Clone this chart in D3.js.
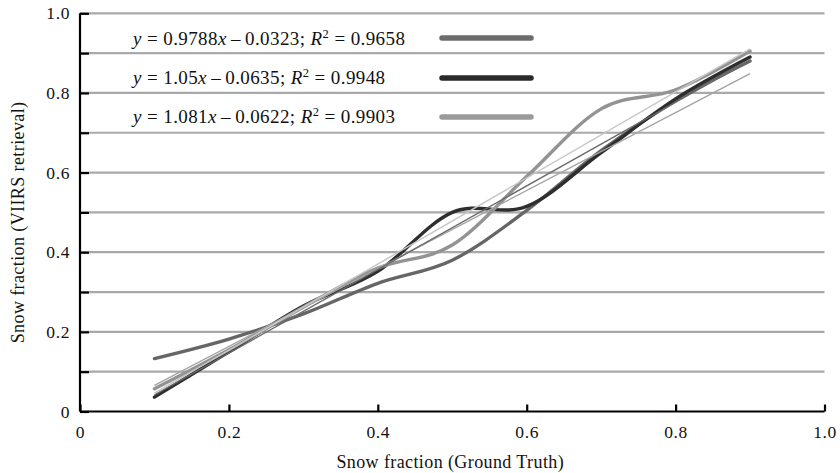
<!DOCTYPE html>
<html>
<head>
<meta charset="utf-8">
<script src="https://cdn.jsdelivr.net/npm/d3@7"></script>
<style>
  html, body { margin: 0; padding: 0; background: #fff; }
  svg { display: block; font-family: "Liberation Serif", "Times New Roman", serif; }
</style>
</head>
<body>
<svg id="chart" width="840" height="473"></svg>
<script>
// Ground-truth snow fraction at the sampled points
const groundTruth = [0.1, 0.2, 0.3, 0.4, 0.5, 0.6, 0.7, 0.8, 0.9];

// VIIRS-retrieved snow fraction, one array per series
const retrievalA = [0.133, 0.182, 0.245, 0.322, 0.38, 0.505, 0.655, 0.78, 0.88];
const retrievalB = [0.036, 0.15, 0.265, 0.352, 0.5, 0.515, 0.65, 0.785, 0.89];
const retrievalC = [0.057, 0.155, 0.262, 0.36, 0.418, 0.59, 0.76, 0.808, 0.905];

// Linear fits: slope, intercept, R²
const fitSlopes = [0.9788, 1.05, 1.081];
const fitIntercepts = [-0.0323, -0.0635, -0.0622];
const fitR2 = ["0.9658", "0.9948", "0.9903"];
const fitSlopeText = ["0.9788", "1.05", "1.081"];
const fitInterceptText = ["0.0323", "0.0635", "0.0622"];

const xTicks = [0, 0.2, 0.4, 0.6, 0.8, 1.0];
const yTicks = [0, 0.2, 0.4, 0.6, 0.8, 1.0];
const yMinorTicks = [0, 0.1, 0.2, 0.3, 0.4, 0.5, 0.6, 0.7, 0.8, 0.9, 1.0];

const xLabel = "Snow fraction (Ground Truth)";
const yLabel = "Snow fraction (VIIRS retrieval)";

const series = [retrievalA, retrievalB, retrievalC];
const curveColors = ["#666666", "#2e2e2e", "#939393"];
const swatchColors = ["#6c6c6c", "#2a2a2a", "#9a9a9a"];
const trendColors = ["#a4a4a4", "#6a6a6a", "#c6c6c6"];

const svg = d3.select("#chart");
const x = d3.scaleLinear().domain([0, 1]).range([80, 824.5]);
const y = d3.scaleLinear().domain([0, 1]).range([411.5, 13.3]);
const fmt = d => d === 0 ? "0" : d3.format(".1f")(d);

// Horizontal gridlines every 0.1
svg.append("g").selectAll("line")
  .data(yMinorTicks.filter(d => d > 0))
  .join("line")
  .attr("x1", x(0)).attr("x2", x(1))
  .attr("y1", d => y(d)).attr("y2", d => y(d))
  .attr("stroke", "#a9a9a9").attr("stroke-width", 2.2);

// Smoothed series curves
const line = d3.line()
  .x((d, i) => x(groundTruth[i]))
  .y(d => y(d))
  .curve(d3.curveCardinal.tension(0));

svg.append("g").selectAll("path")
  .data(series)
  .join("path")
  .attr("d", d => line(d))
  .attr("fill", "none")
  .attr("stroke", (d, i) => curveColors[i])
  .attr("stroke-width", 3.4)
  .attr("stroke-linecap", "round");

// Linear trend lines over the sampled range
const xr = d3.extent(groundTruth);
svg.append("g").selectAll("line")
  .data(fitSlopes)
  .join("line")
  .attr("x1", x(xr[0])).attr("x2", x(xr[1]))
  .attr("y1", (m, i) => y(m * xr[0] + fitIntercepts[i]))
  .attr("y2", (m, i) => y(m * xr[1] + fitIntercepts[i]))
  .attr("stroke", (d, i) => trendColors[i])
  .attr("stroke-width", 1.4);

// Axes with inward ticks
const yAxis = d3.axisLeft(y).tickValues(yMinorTicks).tickSize(-9).tickPadding(0)
  .tickFormat(d => yTicks.some(t => Math.abs(t - d) < 1e-9) ? fmt(d) : "");
const gy = svg.append("g").attr("transform", `translate(${x(0)},0)`).call(yAxis);
gy.select(".domain").attr("stroke", "#000").attr("stroke-width", 2.2).attr("d", `M0,${y(1)}V${y(0)}`);
gy.selectAll(".tick line").attr("stroke", "#000").attr("stroke-width", 2.2);
gy.selectAll(".tick text")
  .attr("x", -10).attr("dy", "0.32em")
  .attr("font-family", "Liberation Serif").attr("font-size", 17.5)
  .attr("letter-spacing", 0.6).attr("fill", "#111");

const xAxis = d3.axisBottom(x).tickValues(xTicks).tickSize(-7).tickPadding(0).tickFormat(fmt);
const gx = svg.append("g").attr("transform", `translate(0,${y(0)})`).call(xAxis);
gx.select(".domain").attr("stroke", "#000").attr("stroke-width", 2.2).attr("d", `M${x(0)},0H${x(1)}`);
gx.selectAll(".tick line").attr("stroke", "#000").attr("stroke-width", 2.2);
gx.selectAll(".tick text")
  .attr("y", 14).attr("dy", "0.71em")
  .attr("font-family", "Liberation Serif").attr("font-size", 17.5)
  .attr("letter-spacing", 0.6).attr("fill", "#111");

// Axis titles
svg.append("text")
  .attr("x", (x(0) + x(1)) / 2 - 2).attr("y", 468)
  .attr("text-anchor", "middle").attr("font-size", 18)
  .attr("letter-spacing", 0.4).attr("fill", "#111")
  .text(xLabel);
svg.append("text")
  .attr("transform", `translate(24,${(y(0) + y(1)) / 2 + 10}) rotate(-90)`)
  .attr("text-anchor", "middle").attr("font-size", 18)
  .attr("letter-spacing", 0.4).attr("fill", "#111")
  .text(yLabel);

// Legend: fit equations with line swatches
const legendBaselines = [45, 84, 123];
const legendSwatchY = [38, 78, 117];
fitSlopes.forEach((m, i) => {
  const t = svg.append("text")
    .attr("x", 133).attr("y", legendBaselines[i])
    .attr("font-size", 19).attr("letter-spacing", 0.4).attr("fill", "#111");
  t.append("tspan").attr("font-style", "italic").text("y");
  t.append("tspan").text(` = ${fitSlopeText[i]}`);
  t.append("tspan").attr("font-style", "italic").text("x");
  t.append("tspan").text(`\u2009\u2013\u2009${fitInterceptText[i]}; `);
  t.append("tspan").attr("font-style", "italic").text("R");
  t.append("tspan").attr("font-size", 12.5).attr("dy", -7.5).text("2");
  t.append("tspan").attr("dy", 7.5).text(` = ${fitR2[i]}`);

  svg.append("line")
    .attr("x1", 442).attr("x2", 531)
    .attr("y1", legendSwatchY[i]).attr("y2", legendSwatchY[i])
    .attr("stroke", swatchColors[i]).attr("stroke-width", 5.5)
    .attr("stroke-linecap", "round");
});
</script>
</body>
</html>
